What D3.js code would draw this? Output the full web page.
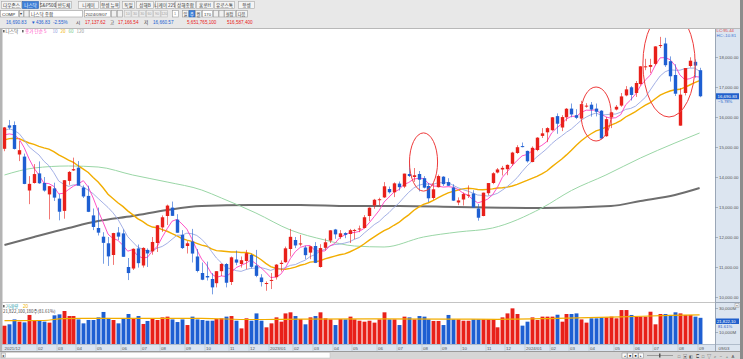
<!DOCTYPE html>
<html><head><meta charset="utf-8">
<script src="https://cdn.jsdelivr.net/npm/d3@7/dist/d3.min.js"></script>
<style>
html,body{margin:0;padding:0;background:#e8e8e8;overflow:hidden;}
svg{display:block;}
text{font-family:"Liberation Sans","Noto Sans CJK KR",sans-serif;}
.k{font-family:"Noto Sans CJK KR","Liberation Sans",sans-serif;}
</style></head><body>
<svg id="chart" width="743" height="359"></svg>
<script>
// ---------- DATA (weekly NASDAQ Composite, week of 2021-12-20 .. 2024-09-03) ----------
const opens = [14940,15720,15732,14750,14680,13550,13800,14120,13800,13420,13620,13280,12870,13870,14220,14310,13650,13370,12720,12300,
12010,11790,11400,12150,12120,11000,10950,11620,11050,11570,11520,11800,12320,12700,12980,12580,12070,11700,11850,11350,
10800,10700,10600,10460,10860,11100,10500,11250,11100,11200,11400,11050,10650,10460,10560,10660,11100,11160,11600,11900,
11750,11650,11480,11700,11000,11640,11880,12250,12000,12130,12100,12200,12250,12300,12700,13050,13230,13320,13600,13490,
13780,13680,14100,14000,14100,13960,13700,13300,13660,14010,13830,13650,13150,13250,13380,13450,12950,12700,13460,13800,
14150,14250,14260,14440,14800,15030,14870,14500,14900,15370,15490,15560,16030,15650,15990,16280,16060,15950,16360,16410,
16280,16210,15360,15990,16250,16380,16720,16990,16800,17100,17660,17670,17770,18370,18450,17860,17400,15712,16800,17700,
17840,17560];
const highs = [15667,15901,15853,15200,14780,14030,14430,14520,14000,13700,13810,13430,13900,14200,14646,14531,13720,13710,12950,12980,
12160,12000,12140,12330,12250,11300,11620,11750,11660,11620,12000,12400,12720,13080,13181,12760,12230,11860,12270,11600,
11150,11180,10800,10860,11120,11130,11350,11550,11350,11570,11440,11570,10760,10520,10800,11100,11220,11680,12270,12000,
12070,11710,11700,11830,11760,11950,12230,12270,12230,12160,12270,12270,12380,12730,12990,13270,13310,13830,13680,13820,
13850,14110,14450,14300,14200,14030,13800,13810,14080,14030,13960,13760,13320,13480,13720,13560,13100,13480,13800,14160,
14300,14370,14420,14840,15060,15150,14880,15020,15330,15630,15660,16000,16120,16060,16300,16450,16260,16540,16460,16500,
16450,16230,16000,16170,16400,16800,17030,17030,17200,17700,17940,17940,18360,18671,18640,18020,17760,16960,17610,17990,
17920,17640];
const lows = [14860,15580,14916,14530,13760,13095,13780,13770,13510,12587,13200,12555,12610,13740,14200,13800,13300,12830,12230,12050,
11108,11035,11070,11900,11340,10565,10900,10980,10980,11000,11410,11500,12170,12400,12700,12140,11600,11450,11150,10820,
10560,10550,10089,10320,10700,10320,10400,11060,10980,10930,10950,10660,10350,10207,10265,10580,10850,11140,11350,11630,
11690,11260,11260,11130,10980,11550,11800,11940,11930,11960,11800,11925,12160,12280,12530,12940,13060,13300,13450,13330,
13550,13630,14000,13840,13520,13620,13160,13240,13650,13700,13700,13200,13060,13050,13300,12980,12544,12690,13390,13760,
14120,14050,14060,14370,14770,14990,14480,14490,14860,15300,15160,15540,15440,15530,15860,15990,15930,15950,16310,16010,
16020,15260,15340,15630,16220,16340,16690,16550,16670,17050,17560,17470,17720,18300,17670,17180,16700,15708,16720,17650,
17310,16660];
const closes = [15653,15645,14936,14894,13769,13771,14098,13791,13548,13694,13313,12843,13893,14169,14261,13711,13351,12839,12335,12145,
11805,11354,12131,12013,11340,10798,11607,11128,11636,11452,11834,12391,12658,13047,12705,12142,11631,11790,11448,10868,
10576,10652,10321,10860,11102,10475,11323,11146,11226,11461,11005,10705,10498,10466,10569,11079,11140,11622,12006,11718,
11787,11395,11689,11138,11631,11824,12222,12088,12123,12072,12227,12235,12284,12658,12976,13241,13259,13690,13492,13788,
13661,14113,14033,14058,13909,13645,13290,13590,14031,13762,13708,13212,13219,13431,13407,12984,12643,13478,13798,14125,
14251,14305,14404,14814,14993,15011,14524,14973,15311,15455,15629,15990,15776,15997,16275,16085,15973,16429,16379,16249,
16175,15282,15928,16156,16341,16686,16921,16735,17133,17689,17689,17733,18353,18398,17727,17358,16776,16745,17631,17877,
17714,16691];
// trading volume per week, millions of shares
const volumes = [15250,16400,20500,18600,18000,24200,20000,20000,18600,17800,23900,24700,27500,23300,23300,20500,17200,20000,20000,22200,
26700,21700,20000,17200,21400,25000,21400,23300,16700,19200,21400,20000,22200,22800,20500,18300,20500,15800,22800,20500,
20000,19400,19400,20800,21400,22800,23300,19400,
13000,21400,19400,25500,19400,13900,17200,22200,18600,25500,26400,23300,20800,16400,22200,23300,26400,21400,20500,15800,
20800,20500,22800,20500,19400,18600,19400,17800,20500,26400,20500,20500,15800,22800,22200,20500,23300,22800,20500,19200,
19200,15800,24200,20500,20500,19400,19400,20500,20500,
20500,20500,20500,13900,22200,25500,29700,25000,15300,18600,22200,20000,22800,22800,22800,24400,18600,25000,25000,25500,
20500,17800,21400,21400,22200,22200,22800,21400,28300,28300,24200,22800,22800,22800,26900,16400,25000,25000,24200,26400,
25500,24200,24200,22800,21822];
// closes of the 19 weeks before the first visible week (for 5/10/20-week averages)
const priorCloses = [14823,14715,15130,15364,15115,15044,15048,14567,14580,14897,15090,15498,15972,15861,16057,15492,15085,15631,15170];
// 60-week and 120-week averages (week index -> value)
const ma60Idx = [0,6,13,19,26,33,40,44,51,58,65,71,77,85,92,99,109,115,122,129,136,141];
const ma60Val = [14067,14300,14367,14333,14067,13833,13567,13300,12800,12233,11900,11700,11667,12000,12167,12300,12967,13550,14067,14633,15133,15467];
const ma120Idx = [0,6,13,19,26,33,40,50,60,70,80,92,109,123,129,136,141];
const ma120Val = [11733,12000,12300,12533,12700,12900,13033,13067,13067,13033,13033,13000,12967,13033,13200,13400,13633];
// 20-week volume average
const volMaIdx = [0,8,12,25,40,50,60,75,90,100,112,125,135,141];
const volMaVal = [19400,19600,21200,21400,21300,20400,20800,20900,20800,20600,21400,22600,23800,24200];
// month ticks
const monthIdx = [0,7,11,15,19,24,28,32,37,41,46,50,54,59,63,67,71,76,80,85,89,93,98,102,106,111,115,119,124,128,132,137,141];
const monthText = ["2021/12","02","03","04","05","06","07","08","09","10","11","12","2023/01","02","03","04","05","06","07","08","09","10","11","12","2024/01","02","03","04","05","06","07","08","09"];
const priceTicks = [10000,11000,12000,13000,14000,15000,16000,17000,18000];
const volTicks = [10000,30000];
// highlighted zones (week index centre, price centre, half-width weeks, half-height price)
const zoneIdx = [85, 120, 134.8];
const zonePrice = [14500, 16100, 17770];
const zoneHalfW = [2.85, 3.05, 5.3];
const zoneHalfH = [970, 900, 1770];
const tabs = ["다우존스","나스닥","S&P500","반도체","니케이","항셍 뉴욕","독일","상해B","니케이 225","상해종합","홍콩H","유로스톡","항셍"];
const tabX = [1,22,40,56,78,100,122,136,155,175,196,214,238];
const tabW = [20,16,15,15,20,19,12,17,19,20,17,20,16];

// ---------- DRAW ----------
const svg = d3.select("#chart");
const n = closes.length;
const RED = "#e8201a", BLUE = "#1e5fd2";
const x = d3.scaleLinear().domain([0, n-1]).range([4.47, 4.47 + (n-1)*4.93]);
const y = d3.scaleLinear().domain([10000, 19000]).range([297, 27]);
const yv = d3.scaleLinear().domain([0, 30000]).range([344, 308]);
const up = i => closes[i] >= opens[i];

// backgrounds
svg.append("rect").attr("width",743).attr("height",359).attr("fill","#e8e8e8");
svg.append("rect").attr("x",0).attr("y",28).attr("width",743).attr("height",331).attr("fill","#ffffff");
svg.append("line").attr("x1",0).attr("x2",743).attr("y1",28.5).attr("y2",28.5).attr("stroke","#b8b8b8");
svg.append("rect").attr("x",0).attr("y",29).attr("width",2.5).attr("height",322).attr("fill","#b4b4b4");
svg.append("rect").attr("x",715).attr("y",29).attr("width",25).attr("height",315).attr("fill","#dce5f0");
svg.append("line").attr("x1",715.5).attr("x2",715.5).attr("y1",29).attr("y2",351).attr("stroke","#9aa6b6");
svg.append("rect").attr("x",740).attr("y",0).attr("width",3).attr("height",359).attr("fill","#8c8c8c");
svg.append("line").attr("x1",2).attr("x2",715).attr("y1",302.5).attr("y2",302.5).attr("stroke","#c4c4c4");
svg.append("line").attr("x1",715).attr("x2",740).attr("y1",302.5).attr("y2",302.5).attr("stroke","#9aa6b6");

// toolbar row 1 (tabs)
tabs.forEach((t,i)=>{
  const sel = i===1;
  svg.append("rect").attr("x",tabX[i]+0.5).attr("y",1.5).attr("width",tabW[i]).attr("height",7)
    .attr("fill", sel ? "#3d7fd9" : "#f4f4f4").attr("stroke", sel ? "#2b62b0" : "#a8a8a8").attr("stroke-width",0.6);
  svg.append("text").attr("class","k").attr("x",tabX[i]+0.5+tabW[i]/2).attr("y",7).attr("text-anchor","middle")
    .attr("font-size",4.6).attr("fill", sel ? "#ffffff" : "#333").text(t);
});
// toolbar row 2
function box(x0,w,fill,stroke){svg.append("rect").attr("x",x0+0.5).attr("y",10.5).attr("width",w).attr("height",6.5).attr("fill",fill).attr("stroke",stroke||"#9a9a9a").attr("stroke-width",0.6);}
box(0,18,"#fff"); svg.append("text").attr("x",2).attr("y",15.6).attr("font-size",4.4).attr("fill","#222").text("COMP");
box(19,4,"#f0f0f0"); svg.append("text").attr("x",20).attr("y",15.4).attr("font-size",4).attr("fill","#333").text("▾");
box(23.5,5,"#f0f0f0"); box(29,53,"#fff");
svg.append("text").attr("class","k").attr("x",31).attr("y",15.7).attr("font-size",4.6).attr("fill","#333").text("나스닥 종합");
box(84,26,"#fff"); svg.append("text").attr("x",85.5).attr("y",15.6).attr("font-size",4.3).attr("fill","#333").text("2024/09/07");
box(111,5,"#f0f0f0"); box(117,5,"#f0f0f0");
["10","30","30","60","90","120"].forEach((t,i)=>{box(124+i*7.3,6.5,"#ececec","#bcbcbc");
  svg.append("text").attr("x",127.7+i*7.3).attr("y",15.4).attr("text-anchor","middle").attr("font-size",3.6).attr("fill","#a0a0a0").text(t);});
box(172,6,"#fff");
svg.append("text").attr("x",175).attr("y",15.4).attr("text-anchor","middle").attr("font-size",3.8).attr("fill","#888").text("1");
["일","주","월"].forEach((t,i)=>{box(182+i*6.5,6,i===1?"#3d7fd9":"#f4f4f4", i===1?"#2b62b0":"#9a9a9a");
  svg.append("text").attr("class","k").attr("x",185.5+i*6.5).attr("y",15.5).attr("text-anchor","middle").attr("font-size",4.2).attr("fill",i===1?"#fff":"#333").text(t);});
box(202,10,"#fff"); svg.append("text").attr("x",204).attr("y",15.5).attr("font-size",4.2).attr("fill","#333").text("170");
box(213,5,"#f0f0f0"); box(218.5,5,"#f0f0f0");
box(224,11,"#f4f4f4"); svg.append("text").attr("class","k").attr("x",229.5).attr("y",15.6).attr("text-anchor","middle").attr("font-size",4.2).attr("fill","#333").text("설정");
box(236,11,"#f4f4f4"); svg.append("text").attr("class","k").attr("x",241.5).attr("y",15.6).attr("text-anchor","middle").attr("font-size",4.2).attr("fill","#333").text("다음");
// toolbar row 3 (quote)
const quote = [
  [6,"16,690.83",BLUE],[31,"▼",BLUE],[36,"436.83",BLUE],[53,"-2.55%",BLUE],[76,"시","#333"],[85,"17,137.62",RED],
  [110,"고","#333"],[118,"17,166.54",RED],[144,"저","#333"],[153,"16,660.57",BLUE],[187,"5,651,765,100",RED],[227,"516,587,400",RED]];
quote.forEach(q=>svg.append("text").attr("class", /[가-힣]/.test(q[1])?"k":null).attr("x",q[0]).attr("y",23.6).attr("font-size",4.6).attr("fill",q[2]).text(q[1]));

// legend
svg.append("rect").attr("x",3).attr("y",30).attr("width",1.6).attr("height",2.4).attr("fill","#666");
svg.append("text").attr("class","k").attr("x",5.5).attr("y",33).attr("font-size",4.6).attr("fill","#555").text("나스닥");
svg.append("rect").attr("x",22).attr("y",30).attr("width",1.6).attr("height",2.4).attr("fill","#666");
const leg = [[25,"종가 단순 5","#ff3fbf"],[52.5,"10","#8f9de0"],[60.5,"20","#f2b400"],[68.5,"60","#74c98a"],[76.5,"120","#9a9a9a"]];
leg.forEach(l=>svg.append("text").attr("class","k").attr("x",l[0]).attr("y",33).attr("font-size",4.6).attr("fill",l[2]).text(l[1]));

// clip for price panel
const defs = svg.append("defs");
defs.append("clipPath").attr("id","cp").append("rect").attr("x",2.5).attr("y",29).attr("width",712.5).attr("height",273);
const gp = svg.append("g").attr("clip-path","url(#cp)");

// moving averages
const allC = priorCloses.concat(closes);
const off = priorCloses.length;
const sma = p => closes.map((_,i)=> d3.mean(allC.slice(i+off+1-p, i+off+1)));
const line = d3.line().x(d=>x(d[0])).y(d=>y(d[1]));
const lineM = d3.line().x(d=>x(d[0])).y(d=>y(d[1])).curve(d3.curveMonotoneX);
gp.append("path").attr("d", lineM(ma120Idx.map((v,i)=>[v, ma120Val[i]]))).attr("fill","none").attr("stroke","#6e6e6e").attr("stroke-width",2);
gp.append("path").attr("d", lineM(ma60Idx.map((v,i)=>[v, ma60Val[i]]))).attr("fill","none").attr("stroke","#9ad6a6").attr("stroke-width",1);
gp.append("path").attr("d", line(sma(20).map((v,i)=>[i,v]))).attr("fill","none").attr("stroke","#f2ad00").attr("stroke-width",1.4);
gp.append("path").attr("d", line(sma(10).map((v,i)=>[i,v]))).attr("fill","none").attr("stroke","#9aa7e2").attr("stroke-width",0.9);
gp.append("path").attr("d", line(sma(5).map((v,i)=>[i,v]))).attr("fill","none").attr("stroke","#ff3fbf").attr("stroke-width",0.9);

// candles
const cg = gp.append("g");
cg.selectAll("line.w").data(d3.range(n)).join("line").attr("class","w")
  .attr("x1",i=>Math.round(x(i))+0.5).attr("x2",i=>Math.round(x(i))+0.5)
  .attr("y1",i=>y(highs[i])).attr("y2",i=>y(lows[i]))
  .attr("stroke",i=>up(i)?RED:BLUE).attr("stroke-opacity",0.6).attr("stroke-width",1);
cg.selectAll("rect.b").data(d3.range(n)).join("rect").attr("class","b")
  .attr("x",i=>Math.round(x(i))+0.5-1.7).attr("width",3.4)
  .attr("y",i=>y(Math.max(opens[i],closes[i])))
  .attr("height",i=>Math.max(1, Math.abs(y(opens[i])-y(closes[i]))))
  .attr("fill",i=>up(i)?RED:BLUE);

// zones
gp.selectAll("ellipse").data(zoneIdx).join("ellipse")
  .attr("cx",(d,i)=>x(d)).attr("cy",(d,i)=>y(zonePrice[i]))
  .attr("rx",(d,i)=>zoneHalfW[i]*4.93).attr("ry",(d,i)=>y(zonePrice[i]-zoneHalfH[i])-y(zonePrice[i]))
  .attr("fill","none").attr("stroke","#ee3b3b").attr("stroke-width",1);

// price axis
priceTicks.forEach(t=>{
  svg.append("line").attr("x1",715).attr("x2",718).attr("y1",Math.round(y(t))+0.5).attr("y2",Math.round(y(t))+0.5).attr("stroke","#8090a4").attr("stroke-width",0.6);
  svg.append("text").attr("x",719).attr("y",y(t)+1.6).attr("font-size",4.4).attr("fill","#555").text(d3.format(",.2f")(t));
});
svg.append("text").attr("x",716.5).attr("y",32).attr("font-size",4.3).attr("fill","#e04040").text("LC:95.44");
svg.append("text").attr("x",716.5).attr("y",37).attr("font-size",4.3).attr("fill","#3a6fd0").text("HC:-10.81");
const last = closes[n-1];
svg.append("rect").attr("x",716).attr("y",y(last)-3).attr("width",23).attr("height",6).attr("fill","#1f5fcc");
svg.append("text").attr("x",717.5).attr("y",y(last)+1.6).attr("font-size",4.4).attr("fill","#fff").text(d3.format(",.2f")(16690.83));
svg.append("text").attr("x",718).attr("y",y(last)+7).attr("font-size",4.2).attr("fill","#2a62c8")
  .text(d3.format(".2f")((closes[n-1]-closes[n-2])/closes[n-2]*100)+"%");

// volume panel
svg.append("rect").attr("x",3).attr("y",305).attr("width",1.6).attr("height",2.4).attr("fill","#666");
svg.append("text").attr("class","k").attr("x",5.5).attr("y",308).attr("font-size",4.6).attr("fill","#3aa6b0").text("거래량");
svg.append("text").attr("x",23).attr("y",308).attr("font-size",4.6).attr("fill","#f2b400").text("20");
svg.append("text").attr("class","k").attr("x",3).attr("y",312.8).attr("font-size",4.4).attr("fill","#444").text("21,822,100,180주(81.61%)");
const vg = svg.append("g");
vg.selectAll("rect").data(d3.range(n)).join("rect")
  .attr("x",i=>Math.round(x(i))+0.5-1.95).attr("width",3.9)
  .attr("y",i=>yv(volumes[i])).attr("height",i=>yv(0)-yv(volumes[i]))
  .attr("fill",i=>up(i)?RED:BLUE);
svg.append("path").attr("d", d3.line().x(d=>x(d[0])).y(d=>yv(d[1])).curve(d3.curveMonotoneX)(volMaIdx.map((v,i)=>[v,volMaVal[i]])))
  .attr("fill","none").attr("stroke","#f2ad00").attr("stroke-width",1.2);
volTicks.forEach(t=>{
  svg.append("line").attr("x1",715).attr("x2",718).attr("y1",Math.round(yv(t))+0.5).attr("y2",Math.round(yv(t))+0.5).attr("stroke","#8090a4").attr("stroke-width",0.6);
  svg.append("text").attr("x",719).attr("y",yv(t)+1.6).attr("font-size",4.4).attr("fill","#555").text(d3.format(",")(t/1)+"M");
});
svg.append("rect").attr("x",716).attr("y",318.5).attr("width",23).attr("height",5.5).attr("fill","#1f5fcc");
svg.append("text").attr("x",717).attr("y",322.6).attr("font-size",4.2).attr("fill","#fff").text("21,822,10");
svg.append("text").attr("x",718).attr("y",327.5).attr("font-size",4.2).attr("fill","#2a62c8").text("81.61%");
svg.append("rect").attr("x",735).attr("y",303.5).attr("width",4).attr("height",4).attr("fill","#f4f4f4").attr("stroke","#999").attr("stroke-width",0.5);
svg.append("text").attr("x",737).attr("y",306.9).attr("text-anchor","middle").attr("font-size",4).attr("fill","#444").text("×");

// x axis band
svg.append("rect").attr("x",2.5).attr("y",344).attr("width",737.5).attr("height",7).attr("fill","#dce5f0");
svg.append("line").attr("x1",2).attr("x2",740).attr("y1",344.5).attr("y2",344.5).attr("stroke","#b0bccb");
monthIdx.forEach((m,i)=>{
  const xx = i===0 ? 3 : Math.round(x(m))-2.5;
  if(i>0) svg.append("line").attr("x1",xx+0.5).attr("x2",xx+0.5).attr("y1",344).attr("y2",351).attr("stroke","#b4c0ce").attr("stroke-width",0.6);
  svg.append("text").attr("x",xx+1.5).attr("y",349.8).attr("font-size",4.4).attr("fill","#555").text(monthText[i]);
});
svg.append("line").attr("x1",715.5).attr("x2",715.5).attr("y1",344).attr("y2",351).attr("stroke","#9aa6b6");
svg.append("text").attr("x",718.5).attr("y",349.8).attr("font-size",4.4).attr("fill","#555").text("09/03");

// bottom bar
svg.append("rect").attr("x",0).attr("y",351).attr("width",740).attr("height",8).attr("fill","#d6d6d6");
svg.append("line").attr("x1",0).attr("x2",740).attr("y1",351.5).attr("y2",351.5).attr("stroke","#9a9a9a");
svg.append("rect").attr("x",1).attr("y",352.5).attr("width",329).attr("height",5.5).attr("fill","#fdfdfd").attr("stroke","#c0c0c0").attr("stroke-width",0.5);
svg.append("rect").attr("x",1.5).attr("y",353).attr("width",4).attr("height",4.5).attr("fill","#f0f0f0").attr("stroke","#999").attr("stroke-width",0.5);
svg.append("text").attr("x",2.4).attr("y",356.8).attr("font-size",3.6).attr("fill","#333").text("◂");
["◂","■","■","▸"].forEach((t,i)=>{
  svg.append("rect").attr("x",622+i*5.5).attr("y",353).attr("width",5).attr("height",5).attr("fill","#fafafa").attr("stroke","#888").attr("stroke-width",0.5);
  svg.append("text").attr("x",624.5+i*5.5).attr("y",357).attr("text-anchor","middle").attr("font-size",3.4).attr("fill","#222").text(t);
});
svg.append("line").attr("x1",647).attr("x2",673).attr("y1",355.5).attr("y2",355.5).attr("stroke","#777").attr("stroke-width",0.6);
svg.append("rect").attr("x",659).attr("y",353.5).attr("width",1.5).attr("height",4).attr("fill","#555");
["□","▣","◧","⊏","□","▽","⌕","−","+","A"].forEach((t,i)=>{
  svg.append("text").attr("x",679+i*6).attr("y",357.5).attr("text-anchor","middle").attr("font-size",4.2).attr("fill","#555").text(t);
});
</script>
</body></html>
